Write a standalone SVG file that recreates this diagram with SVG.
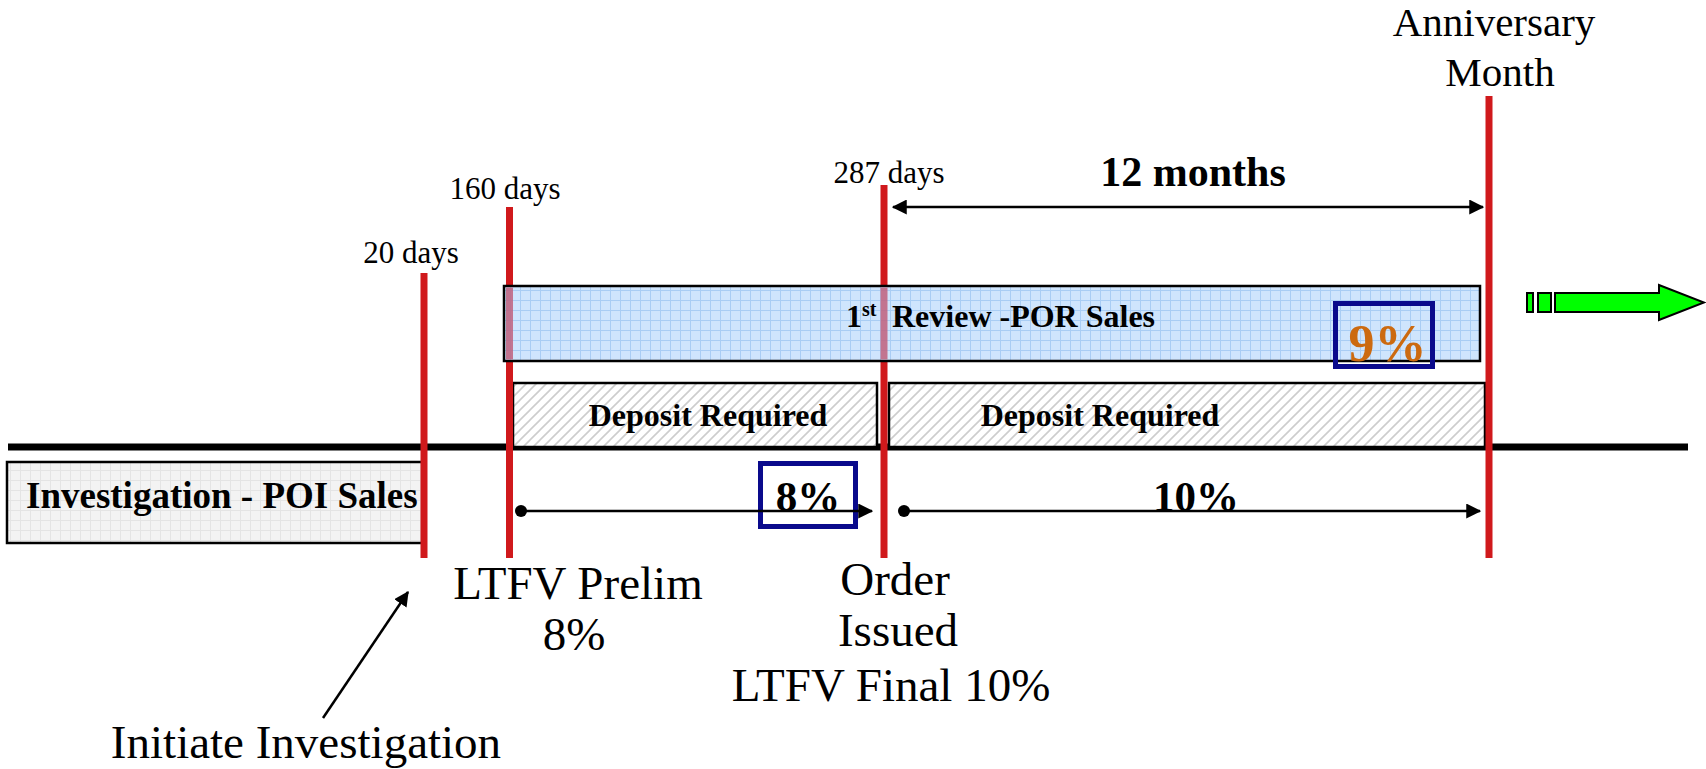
<svg xmlns="http://www.w3.org/2000/svg" width="1706" height="769" viewBox="0 0 1706 769">
<style>
.lbl{font-family:"Liberation Serif","Times New Roman",serif;fill:#000}
.b{font-weight:bold}
.red{stroke:#d0191c;stroke-width:7;fill:none}
.conn{stroke:#000;stroke-width:2.5;fill:none}
.box{stroke:#000;stroke-width:2.5}
.pct{fill:none;stroke:#0a0a8c;stroke-width:5}
</style>
<defs>
<pattern id="gridBlue" width="10" height="10" patternUnits="userSpaceOnUse">
<rect width="10" height="10" fill="#cfe5fd"/>
<path d="M0,0.5H10M0.5,0V10" stroke="#a9cdf4" stroke-width="1"/>
</pattern>
<pattern id="gridGray" width="10" height="10" patternUnits="userSpaceOnUse">
<rect width="10" height="10" fill="#f3f3f3"/>
<path d="M0,0.5H10M0.5,0V10" stroke="#e4e4e4" stroke-width="1"/>
</pattern>
<pattern id="hatch" width="10" height="10" patternUnits="userSpaceOnUse">
<rect width="10" height="10" fill="#fff"/>
<path d="M-1,1l2,-2M0,10L10,0M9,11l2,-2" stroke="#cdcdcd" stroke-width="1.6"/>
</pattern>
<marker id="ah" markerWidth="6" markerHeight="6" refX="5.5" refY="3" orient="auto" markerUnits="strokeWidth">
<path d="M0,0L6,3L0,6z" fill="#000"/>
</marker>
<marker id="as" markerWidth="6" markerHeight="6" refX="0.5" refY="3" orient="auto" markerUnits="strokeWidth">
<path d="M6,0L0,3L6,6z" fill="#000"/>
</marker>
</defs>
<rect width="1706" height="769" fill="#fff"/>

<g id="timeline-axis">
<line x1="8" y1="447" x2="1688" y2="447" stroke="#000" stroke-width="7"/>
</g>

<g id="deposit-1">
<rect class="box" x="513" y="383" width="364" height="64" fill="url(#hatch)"/>
<text class="lbl b" x="708" y="426" font-size="32" text-anchor="middle">Deposit Required</text>
</g>
<g id="deposit-2">
<rect class="box" x="889" y="383" width="596" height="64" fill="url(#hatch)"/>
<text class="lbl b" x="1100" y="426" font-size="32" text-anchor="middle">Deposit Required</text>
</g>

<g id="investigation">
<rect class="box" x="7" y="462" width="416" height="81" fill="url(#gridGray)"/>
<text class="lbl b" x="26" y="508" font-size="37">Investigation - POI Sales</text>
</g>

<g id="markers">
<line id="m20" class="red" x1="424" y1="273" x2="424" y2="558" stroke-width="6"/>
<line id="m160" class="red" x1="509.5" y1="207" x2="509.5" y2="558"/>
<line id="m287" class="red" x1="884" y1="185" x2="884" y2="558"/>
<line id="mann" class="red" x1="1489" y1="96" x2="1489" y2="558"/>
</g>

<g id="review">
<rect class="box" x="504" y="286" width="976" height="75" fill="url(#gridBlue)"/>
<rect x="506" y="287.5" width="7" height="72" fill="#c0607c" opacity="0.85"/>
<rect x="880.5" y="287.5" width="7" height="72" fill="#c0607c" opacity="0.85"/>
<text class="lbl b" x="846" y="327" font-size="32">1<tspan font-size="20" dy="-11">st</tspan><tspan x="892" dy="11">Review -POR Sales</tspan></text>
<rect class="pct" x="1335.5" y="303.5" width="97" height="63"/>
<text class="lbl b" x="1387.5" y="361" font-size="52" text-anchor="middle" style="fill:#cc6a10">9%</text>
</g>

<g id="pct8">
<rect class="pct" x="760.5" y="463.5" width="95" height="63"/>
<text class="lbl b" x="808" y="511" font-size="43" text-anchor="middle">8%</text>
</g>
<g id="pct10">
<text class="lbl b" x="1196" y="511" font-size="43" text-anchor="middle">10%</text>
</g>

<g id="continue-arrow">
<rect x="1527" y="293" width="6" height="19" fill="#00ff00" stroke="#000" stroke-width="2"/>
<rect x="1538" y="293" width="13" height="19" fill="#00ff00" stroke="#000" stroke-width="2"/>
<path d="M1555,293H1659V285L1704,302.5L1659,320V312H1555Z" fill="#00ff00" stroke="#000" stroke-width="2" stroke-linejoin="miter"/>
</g>

<g id="connectors">
<line class="conn" x1="893" y1="207" x2="1483" y2="207" marker-start="url(#as)" marker-end="url(#ah)"/>
<circle cx="521" cy="511" r="6" fill="#000"/>
<line class="conn" x1="521" y1="511" x2="872" y2="511" marker-end="url(#ah)"/>
<circle cx="904" cy="511" r="6" fill="#000"/>
<line class="conn" x1="904" y1="511" x2="1480" y2="511" marker-end="url(#ah)"/>
<line class="conn" x1="323" y1="718" x2="408" y2="592" marker-end="url(#ah)"/>
</g>

<g id="labels">
<text class="lbl" x="411" y="263" font-size="31" text-anchor="middle">20 days</text>
<text class="lbl" x="505" y="199" font-size="31" text-anchor="middle">160 days</text>
<text class="lbl" x="889" y="183" font-size="31" text-anchor="middle">287 days</text>
<text class="lbl b" x="1193" y="186" font-size="42" text-anchor="middle">12 months</text>
<text class="lbl" x="1494" y="36" font-size="41" text-anchor="middle">Anniversary</text>
<text class="lbl" x="1500" y="86" font-size="41" text-anchor="middle">Month</text>
<text class="lbl" x="578" y="599" font-size="47" text-anchor="middle">LTFV Prelim</text>
<text class="lbl" x="574" y="650" font-size="47" text-anchor="middle">8%</text>
<text class="lbl" x="895" y="595" font-size="47" text-anchor="middle">Order</text>
<text class="lbl" x="898" y="646" font-size="47" text-anchor="middle">Issued</text>
<text class="lbl" x="891" y="701" font-size="47" text-anchor="middle">LTFV Final 10%</text>
<text class="lbl" x="306" y="758" font-size="47" text-anchor="middle">Initiate Investigation</text>
</g>
</svg>
